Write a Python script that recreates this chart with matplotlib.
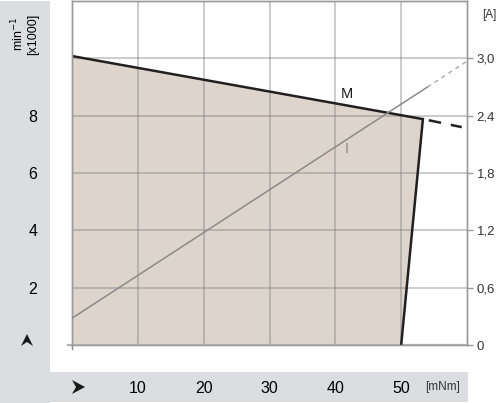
import numpy as np
import matplotlib.pyplot as plt
from matplotlib.patches import Polygon, Rectangle

plt.rcParams["font.family"] = ["Liberation Sans", "DejaVu Sans"]

# ---- data ----
# operating range envelope: torque [mNm] vs speed [x1000 min^-1]
env_torque = [0.0, 0.0, 53.3, 50.0]
env_speed = [0.0, 10.08, 7.88, 0.0]

# speed line M (solid part + dashed extension)
m_torque = [0.0, 53.3]
m_speed = [10.08, 7.88]
m_ext_torque = [54.2, 59.2]
m_ext_speed = [7.84, 7.60]

# current line I [A]
i_torque = [0.0, 54.0]
i_current = [0.28, 2.70]
i_ext_torque = [54.0, 60.0]
i_ext_current = [2.70, 2.97]

x_ticks = [10, 20, 30, 40, 50]
left_ticks = [2, 4, 6, 8]
right_ticks = [0, 0.6, 1.2, 1.8, 2.4, 3.0]
right_labels = ["0", "0,6", "1,2", "1,8", "2,4", "3,0"]

FILL = "#ddd5cc"
BAND = "#dcdde0"
W, H = 500, 403

fig = plt.figure(figsize=(5.0, 4.03), dpi=100)


def px(x, y):
    # pixel position (from top-left) -> figure fraction
    return x / W, 1 - y / H


# grey bands (left strip and bottom strip)
fig.patches.append(Rectangle(px(0, 403), 50 / W, 402 / H, transform=fig.transFigure,
                             facecolor=BAND, edgecolor="none", zorder=-2))
fig.patches.append(Rectangle(px(0, 402), 468 / W, 30 / H, transform=fig.transFigure,
                             facecolor=BAND, edgecolor="none", zorder=-2))


def arrowhead(tip, back1, notch, back2):
    pts = [px(*tip), px(*back1), px(*notch), px(*back2)]
    fig.patches.append(Polygon(pts, closed=True, transform=fig.transFigure,
                               facecolor="#1a1a1a", edgecolor="none", zorder=-1))


arrowhead((85, 387), (72, 380), (76, 387), (72, 394))
arrowhead((27, 334), (21, 346), (27, 342), (33, 346))

ax = fig.add_axes([72 / W, 58 / H, 395 / W, 344 / H])
ax.set_xlim(0, 60)
ax.set_ylim(0, 12)
ax.set_facecolor("white")

ax.fill(env_torque, env_speed, color=FILL, zorder=1, lw=0)

# grid drawn semi-transparent so it darkens over the fill
for xv in range(10, 60, 10):
    ax.axvline(xv, color="#7a7a7a", alpha=0.45, lw=1.2, zorder=2)
for yv in range(2, 12, 2):
    ax.axhline(yv, color="#7a7a7a", alpha=0.45, lw=1.2, zorder=2)

ax.plot(m_torque, m_speed, color="#231f20", lw=1.8, zorder=4, solid_capstyle="butt")
ax.plot([53.3, 50.0], [7.88, 0.0], color="#231f20", lw=1.8, zorder=4)
ax.plot(m_ext_torque, m_ext_speed, color="#231f20", lw=1.8, ls=(0, (5, 4)), zorder=4)

# small overhang of the axes at the origin
ax.plot([-0.6, 0], [0, 0], color="#b5b5b5", lw=1.6, clip_on=False, zorder=4)
ax.plot([0, 0], [-0.15, 0], color="#8a8a8a", lw=1.0, clip_on=False, zorder=4)

ax2 = ax.twinx()
ax2.set_ylim(0, 3.6)
ax2.plot(i_torque, i_current, color="#8a8a8a", lw=1.1, zorder=3)
ax2.plot(i_ext_torque, i_ext_current, color="#a8a8a8", lw=1.0, ls=(0, (3, 3)), zorder=3)

ax.text(41.8, 8.75, "M", fontsize=10.5, color="#1a1a1a", ha="center", va="center", zorder=5)
ax.text(41.8, 6.84, "I", fontsize=10.5, color="#8a8a8a", ha="center", va="center", zorder=5)

for a in (ax, ax2):
    for s in a.spines.values():
        s.set_color("#9a9a9a")
        s.set_linewidth(1.0)
ax.spines["bottom"].set_color("#b5b5b5")
ax.spines["bottom"].set_linewidth(1.6)

# left axis: labels only, no ticks
ax.set_yticks(left_ticks)
ax.set_yticklabels([str(v) for v in left_ticks])
ax.tick_params(axis="y", length=0, pad=25, labelsize=11.5)
ax.set_xticks(x_ticks)
ax.set_xticklabels([str(v) for v in x_ticks])
ax.tick_params(axis="x", length=0, pad=26, labelsize=11.5)

ax2.set_yticks(right_ticks)
ax2.set_yticklabels(right_labels)
ax2.tick_params(axis="y", length=4, width=1.0, color="#9a9a9a", pad=3,
                labelsize=9.5, labelcolor="#333333")

fig.text(18 / W, 1 - 34 / H, r"min$^{-1}$", rotation=90, fontsize=9,
         ha="center", va="center")
fig.text(33 / W, 1 - 34 / H, "[x1000]", rotation=90, fontsize=9,
         ha="center", va="center")
fig.text(489 / W, 1 - 15 / H, "[A]", fontsize=8.5, ha="center", va="center", color="#333333")
fig.text(443 / W, 1 - 387 / H, "[mNm]", fontsize=8.5, ha="center", va="center", color="#333333")

fig.savefig("out.png", dpi=100)
